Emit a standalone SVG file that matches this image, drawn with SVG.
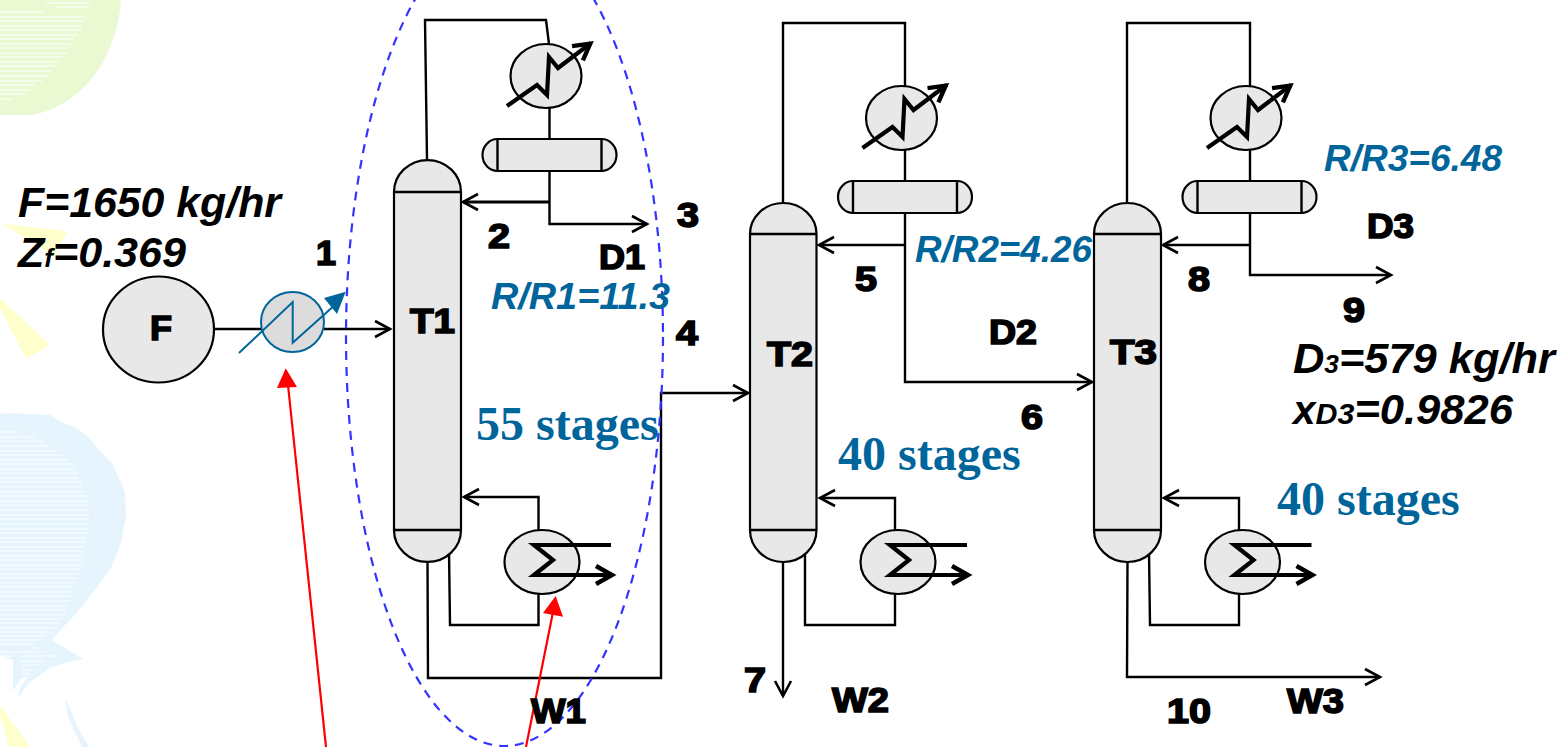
<svg xmlns="http://www.w3.org/2000/svg" xmlns:xlink="http://www.w3.org/1999/xlink" width="1563" height="747" viewBox="0 0 1563 747">
<style>
.v{fill:#e8e8e8;stroke:#000;stroke-width:2.2}
.l{fill:none;stroke:#000;stroke-width:2.4;stroke-linejoin:miter}
.t{fill:none;stroke:#000;stroke-width:4.2}
.k{font-family:"Liberation Sans",Arial,sans-serif;font-weight:700;fill:#000;stroke:#000;stroke-width:1.7;font-size:35px}
.i{font-family:"Liberation Sans",Arial,sans-serif;font-weight:700;font-style:italic;fill:#000;font-size:43px}
.b{font-family:"Liberation Sans",Arial,sans-serif;font-weight:700;font-style:italic;fill:#00659b;font-size:37px}
.s{font-family:"Liberation Serif","Times New Roman",serif;font-weight:700;fill:#00659b;font-size:48px}
.h{stroke:#fff;stroke-width:1;fill:none}
</style>
<defs>
<marker id="a" markerUnits="userSpaceOnUse" markerWidth="22" markerHeight="22" refX="17" refY="11" orient="auto"><path d="M2 3L17 11L2 19" fill="none" stroke="#000" stroke-width="2.6"/></marker>
<marker id="ab" markerUnits="userSpaceOnUse" markerWidth="28" markerHeight="28" refX="22" refY="14" orient="auto"><path d="M5 5L21 14L5 23" fill="none" stroke="#000" stroke-width="4.4"/></marker>
<g id="condenser"><ellipse class="v" cx="0" cy="0" rx="35.5" ry="32"/><path class="t" d="M-39 30L-9 9L1 19L3-19L12-8L45-33" marker-end="url(#ab)"/></g>
<g id="drum"><path class="v" d="M-52-16H52A15 16 0 0 1 52 16H-52A15 16 0 0 1-52-16Z"/><path class="l" d="M-52-16V16M52-16V16"/></g>
<g id="reboiler"><ellipse class="v" cx="0" cy="0" rx="37.5" ry="32"/><path class="t" d="M69-17H-8L11-2L-8 13H71" marker-end="url(#ab)"/></g>
</defs>

<g id="background">
<path d="M0 0H121Q119 35 100 67Q75 106 33 115H0Z" fill="#ebf9d2"/>
<path class="h" d="M46 3H90M56 7H88M0 12H44M0 17H86M0 21H84M0 26H82M0 30H81M0 35H78M0 39H74M0 44H72M0 48H68M0 53H66M0 57H63M0 62H59M0 66H56M0 71H52M0 76H48M0 81H42M0 85H36M0 90H30M0 94H23M0 99H13M0 104H3"/>
<path d="M3 224L67 231L55 257Z" fill="#ffffcc"/>
<path d="M0 298L50 345L26 359L0 308Z" fill="#ffffcc"/>
<path d="M0 705L30 747H9L0 715Z" fill="#ffffcc"/>
<path d="M0 414L8 413L50 415L63 423L77 428L88 437L113 465L125 492L126 517L121 543L110 570L95 590L73 617L63 627L52 640L83 659L72 661L50 668L30 682L18 698L20 687L28 677L21 678L13 691L13 660L0 655Z" fill="#e6f5fd"/>
<path d="M65 697L68 717L82 747H89L78 728Z" fill="#e6f5fd"/>
<path class="h" d="M0 432H20M0 437H35M0 441H43M0 446H50M0 451H57M0 455H63M0 460H68M0 464H71M0 469H75M0 473H77M0 478H78M0 482H81M0 487H83M0 492H86M0 496H87M0 501H88M0 505H88M0 510H89M0 515H89M0 519H89M0 524H89M0 529H88M0 533H88M0 538H87M0 542H86M0 547H85M0 551H84M0 556H83M0 560H83M0 565H81M0 569H80M0 574H78M0 578H77M0 583H75M0 587H74M0 592H71M0 596H71M0 601H70M0 606H68M0 610H66M0 615H65M0 619H62M0 623H60M0 628H57M0 632H52M0 636H46M0 640H43M0 644H35M32 648H37M0 652H46M0 656H13M20 656H55M22 661H45M22 665H40M22 670H34M22 674H30"/>
</g>

<g id="connectors">
<path class="l" d="M427 160L425 20H546L549 44"/>
<path class="l" d="M549.500 108V139M549.500 171V224H647" marker-end="url(#a)"/>
<path class="l" d="M549.500 202H463" style="stroke-width:3" marker-end="url(#a)"/>
<path class="l" d="M538.500 530V497H464" marker-end="url(#a)"/>
<path class="l" d="M538.500 594V625H450L449 551"/>
<path class="l" d="M427.500 562L428 678H661V393H748" marker-end="url(#a)"/>
<path class="l" d="M214 329H262"/>
<path class="l" d="M324 329H390" marker-end="url(#a)"/>
<path class="l" d="M783 203V23H905V87"/>
<path class="l" d="M905 150V181M905 213V382H1092" marker-end="url(#a)"/>
<path class="l" d="M905 245H819" marker-end="url(#a)"/>
<path class="l" d="M895 530V498H820" marker-end="url(#a)"/>
<path class="l" d="M895 594V625H805V553"/>
<path class="l" d="M783 562V696" marker-end="url(#a)"/>
<path class="l" d="M1127 203V23H1250V87"/>
<path class="l" d="M1250 150V181M1250 213V275H1391" marker-end="url(#a)"/>
<path class="l" d="M1250 245H1163" marker-end="url(#a)"/>
<path class="l" d="M1239 530V498H1164" marker-end="url(#a)"/>
<path class="l" d="M1239 594V625H1150L1149 551"/>
<path class="l" d="M1127.500 562L1127 677H1380" marker-end="url(#a)"/>
</g>

<g id="node-F"><ellipse class="v" cx="158.500" cy="329.500" rx="55.500" ry="53"/><text class="k" x="150" y="340" textLength="22" lengthAdjust="spacingAndGlyphs">F</text></g>

<g id="heater">
<ellipse cx="292.500" cy="322" rx="31.500" ry="30" fill="#dcdcdc" stroke="#00659b" stroke-width="2"/>
<path d="M239 353L292.700 302V342.700L336 304" fill="none" stroke="#00659b" stroke-width="2"/>
<path d="M345.700 291.700L324 298L337 314Z" fill="#00659b"/>
</g>

<g id="node-T1">
<path class="v" d="M394 192A33.500 32 0 0 1 461 192V530A33.500 32 0 0 1 394 530Z"/>
<path class="l" d="M394 192H461M394 530H461"/>
<text class="k" x="410" y="333" textLength="45" lengthAdjust="spacingAndGlyphs">T1</text>
</g>
<g id="node-T2">
<path class="v" d="M750 234A33.250 31 0 0 1 816.500 234V530A33.250 32 0 0 1 750 530Z"/>
<path class="l" d="M750 234H816.500M750 530H816.500"/>
<text class="k" x="767" y="366" textLength="46" lengthAdjust="spacingAndGlyphs">T2</text>
</g>
<g id="node-T3">
<path class="v" d="M1094 234A33.500 31 0 0 1 1161 234V530A33.500 32 0 0 1 1094 530Z"/>
<path class="l" d="M1094 234H1161M1094 530H1161"/>
<text class="k" x="1110" y="364" textLength="47" lengthAdjust="spacingAndGlyphs">T3</text>
</g>

<g id="condenser-1"><use href="#condenser" transform="translate(546 76)"/></g>
<g id="drum-1"><use href="#drum" transform="translate(549.500 155)"/></g>
<g id="reboiler-1"><use href="#reboiler" transform="translate(542 562)"/></g>
<g id="condenser-2"><use href="#condenser" transform="translate(901.500 118)"/></g>
<g id="drum-2"><use href="#drum" transform="translate(905 197)"/></g>
<g id="reboiler-2"><use href="#reboiler" transform="translate(898 562)"/></g>
<g id="condenser-3"><use href="#condenser" transform="translate(1246 118)"/></g>
<g id="drum-3"><use href="#drum" transform="translate(1249.500 197)"/></g>
<g id="reboiler-3"><use href="#reboiler" transform="translate(1242.500 562)"/></g>

<g id="annotations">
<ellipse cx="504.500" cy="337" rx="158.500" ry="409" fill="none" stroke="#3333ff" stroke-width="2.200" stroke-dasharray="9 7"/>
<path d="M326 747L288 385M526 747L553 612" fill="none" stroke="#ff0000" stroke-width="2.200"/>
<path d="M285.700 368.300L277 388L297 387Z" fill="#ff0000"/>
<path d="M555.700 596L543 613L563 616.700Z" fill="#ff0000"/>
</g>

<g id="labels">
<text class="k" x="316" y="265" textLength="20" lengthAdjust="spacingAndGlyphs">1</text>
<text class="k" x="488" y="248" textLength="22" lengthAdjust="spacingAndGlyphs">2</text>
<text class="k" x="677" y="227" textLength="22" lengthAdjust="spacingAndGlyphs">3</text>
<text class="k" x="676" y="345" textLength="22" lengthAdjust="spacingAndGlyphs">4</text>
<text class="k" x="855" y="291" textLength="22" lengthAdjust="spacingAndGlyphs">5</text>
<text class="k" x="1021" y="429" textLength="22" lengthAdjust="spacingAndGlyphs">6</text>
<text class="k" x="744" y="692" textLength="22" lengthAdjust="spacingAndGlyphs">7</text>
<text class="k" x="1188" y="291" textLength="22" lengthAdjust="spacingAndGlyphs">8</text>
<text class="k" x="1343" y="322" textLength="22" lengthAdjust="spacingAndGlyphs">9</text>
<text class="k" x="1167" y="723" textLength="44" lengthAdjust="spacingAndGlyphs">10</text>
<text class="k" x="599" y="269" textLength="46" lengthAdjust="spacingAndGlyphs">D1</text>
<text class="k" x="989" y="344" textLength="48" lengthAdjust="spacingAndGlyphs">D2</text>
<text class="k" x="1367" y="238" textLength="47" lengthAdjust="spacingAndGlyphs">D3</text>
<text class="k" x="531" y="723" textLength="55" lengthAdjust="spacingAndGlyphs">W1</text>
<text class="k" x="832" y="712" textLength="57" lengthAdjust="spacingAndGlyphs">W2</text>
<text class="k" x="1287" y="713" textLength="57" lengthAdjust="spacingAndGlyphs">W3</text>

<text class="i" x="18" y="217" textLength="263" lengthAdjust="spacingAndGlyphs">F=1650 kg/hr</text>
<text class="i" x="18" y="267" textLength="168" lengthAdjust="spacingAndGlyphs">Z<tspan font-size="26">f</tspan>=0.369</text>
<text class="i" x="1293" y="373" textLength="262" lengthAdjust="spacingAndGlyphs">D<tspan font-size="26">3</tspan>=579 kg/hr</text>
<text class="i" x="1293" y="424" textLength="220" lengthAdjust="spacingAndGlyphs"><tspan font-size="40">x</tspan><tspan font-size="30">D3</tspan>=0.9826</text>

<text class="b" x="491" y="309" textLength="179" lengthAdjust="spacingAndGlyphs">R/R1=11.3</text>
<text class="b" x="915" y="262" textLength="177" lengthAdjust="spacingAndGlyphs">R/R2=4.26</text>
<text class="b" x="1324" y="171" textLength="178" lengthAdjust="spacingAndGlyphs">R/R3=6.48</text>

<text class="s" x="476" y="440">55 stages</text>
<text class="s" x="838" y="470">40 stages</text>
<text class="s" x="1277" y="515">40 stages</text>
</g>
</svg>
